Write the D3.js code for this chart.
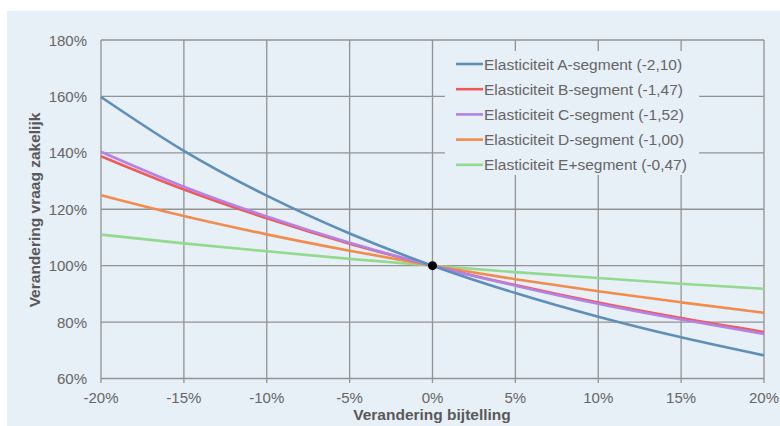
<!DOCTYPE html>
<html><head><meta charset="utf-8">
<script src="https://cdn.jsdelivr.net/npm/d3@7"></script>
<style>
html,body{margin:0;padding:0;background:#fff;}
svg{display:block;font-family:"Liberation Sans",Arial,sans-serif;}
</style></head>
<body><svg id="c" width="780" height="426"></svg>
<script>
const xValues = [-0.20,-0.15,-0.10,-0.05,0,0.05,0.10,0.15,0.20];
const seriesNames = ["Elasticiteit A-segment (-2,10)","Elasticiteit B-segment (-1,47)","Elasticiteit C-segment (-1,52)","Elasticiteit D-segment (-1,00)","Elasticiteit E+segment (-0,47)"];
const serieA = [1.598,1.407,1.248,1.114,1,0.903,0.819,0.746,0.682];
const serieB = [1.388,1.270,1.168,1.078,1,0.931,0.869,0.814,0.765];
const serieC = [1.404,1.280,1.174,1.081,1,0.929,0.865,0.809,0.758];
const serieD = [1.250,1.176,1.111,1.053,1,0.952,0.909,0.870,0.833];
const serieE = [1.110,1.079,1.051,1.024,1,0.977,0.956,0.936,0.918];
const xTicks = [-0.20,-0.15,-0.10,-0.05,0,0.05,0.10,0.15,0.20];
const yTicks = [0.6,0.8,1.0,1.2,1.4,1.6,1.8];
const colors = ["#5f8fb8","#f05a5a","#b382e6","#f28c4c","#93d98f"];

const svg = d3.select("#c");
svg.append("rect").attr("x",7).attr("y",11).attr("width",773).attr("height",415).attr("fill","#e7eff7");

const x = d3.scaleLinear().domain([-0.2,0.2]).range([101,764]);
const y = d3.scaleLinear().domain([0.6,1.8]).range([378.5,40]);
const fmt = d => Math.round(d*100)+"%";

// grid
const g = svg.append("g");
g.selectAll(".vx").data(xTicks).join("line")
 .attr("x1",d=>x(d)).attr("x2",d=>x(d)).attr("y1",40).attr("y2",383)
 .attr("stroke","#939393").attr("stroke-width",1.3);
g.selectAll(".hy").data(yTicks).join("line")
 .attr("x1",101).attr("x2",764).attr("y1",d=>y(d)).attr("y2",d=>y(d))
 .attr("stroke","#939393").attr("stroke-width",1.3);

// tick labels
svg.append("g").selectAll("text").data(yTicks).join("text")
 .attr("x",87).attr("y",d=>y(d)+5.5).attr("text-anchor","end")
 .attr("font-size",15).attr("fill","#666").text(fmt);
svg.append("g").selectAll("text").data(xTicks).join("text")
 .attr("x",d=>x(d)).attr("y",403).attr("text-anchor","middle")
 .attr("font-size",15).attr("fill","#666").text(fmt);

// axis titles
svg.append("text").attr("x",432).attr("y",420).attr("text-anchor","middle")
 .attr("font-size",15.5).attr("font-weight","bold").attr("fill","#595959").text("Verandering bijtelling");
svg.append("text").attr("transform","translate(40,210) rotate(-90)").attr("text-anchor","middle")
 .attr("font-size",15.5).attr("font-weight","bold").attr("fill","#595959").text("Verandering vraag zakelijk");

// legend background
svg.append("rect").attr("x",445).attr("y",51).attr("width",254).attr("height",124).attr("fill","#e7eff7");

const series = [serieA,serieB,serieC,serieD,serieE];
const line = d3.line().x((d,i)=>x(xValues[i])).y(d=>y(d)).curve(d3.curveMonotoneX);
// draw order: E, D, B, C, A
[4,3,1,2,0].forEach(k=>{
  svg.append("path").attr("d",line(series[k])).attr("fill","none")
   .attr("stroke",colors[k]).attr("stroke-width",2.6);
});

// origin point
svg.append("circle").attr("cx",x(0)).attr("cy",y(1)).attr("r",4.5).attr("fill","#000");

// legend
const lg = svg.append("g");
seriesNames.forEach((n,i)=>{
  const yy = 64 + i*25.2;
  lg.append("line").attr("x1",456).attr("x2",483).attr("y1",yy).attr("y2",yy)
    .attr("stroke",colors[i]).attr("stroke-width",2.6);
  lg.append("text").attr("x",484).attr("y",yy+5.5).attr("font-size",15.5).attr("fill","#666").text(n);
});
</script></body></html>
